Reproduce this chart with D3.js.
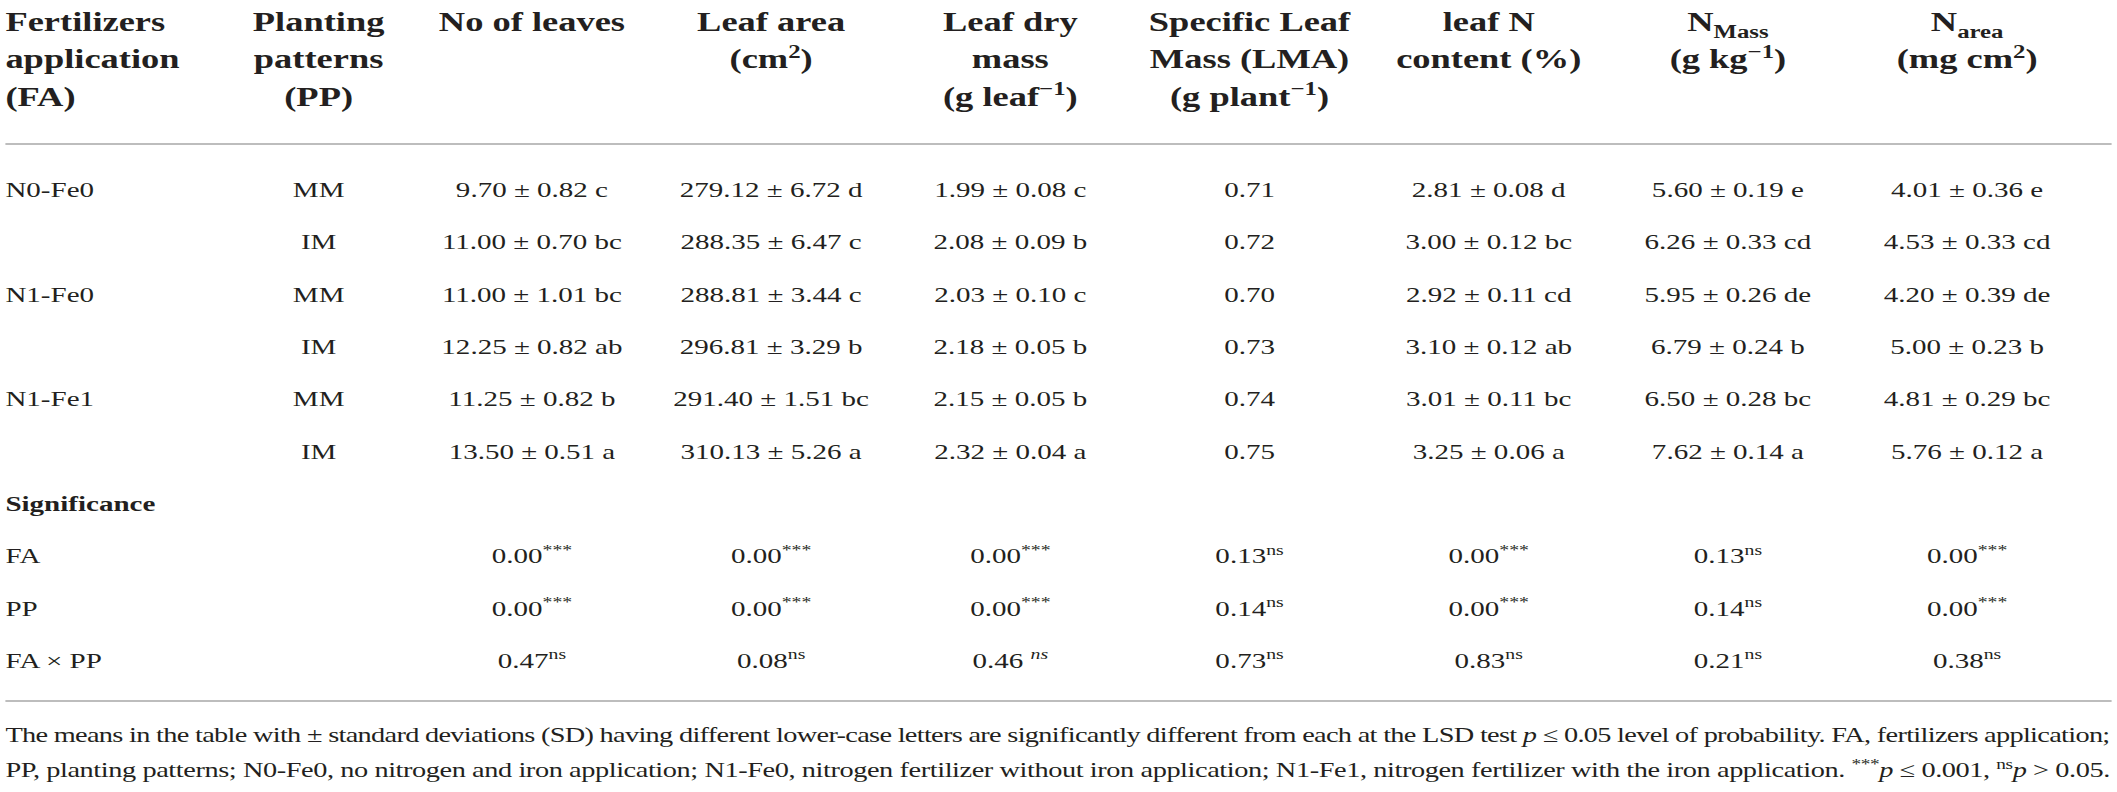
<!DOCTYPE html>
<html>
<head>
<meta charset="utf-8">
<script src="https://cdn.jsdelivr.net/npm/d3@7"></script>
<style>
  body { margin: 0; background: #fff; }
  text { font-family: "Liberation Serif", "Times New Roman", serif; fill: #231f20; white-space: pre; }
</style>
</head>
<body>
<div id="table-chart"></div>
<script>
// table content, one array per column
const fertilizers = ["N0-Fe0", "", "N1-Fe0", "", "N1-Fe1", ""];
const patterns = ["MM", "IM", "MM", "IM", "MM", "IM"];

// [mean, sd, letter]
const noLeaves = [[9.70, 0.82, "c"], [11.00, 0.70, "bc"], [11.00, 1.01, "bc"], [12.25, 0.82, "ab"], [11.25, 0.82, "b"], [13.50, 0.51, "a"]];
const leafArea = [[279.12, 6.72, "d"], [288.35, 6.47, "c"], [288.81, 3.44, "c"], [296.81, 3.29, "b"], [291.40, 1.51, "bc"], [310.13, 5.26, "a"]];
const leafDryMass = [[1.99, 0.08, "c"], [2.08, 0.09, "b"], [2.03, 0.10, "c"], [2.18, 0.05, "b"], [2.15, 0.05, "b"], [2.32, 0.04, "a"]];
const lma = [0.71, 0.72, 0.70, 0.73, 0.74, 0.75];
const leafN = [[2.81, 0.08, "d"], [3.00, 0.12, "bc"], [2.92, 0.11, "cd"], [3.10, 0.12, "ab"], [3.01, 0.11, "bc"], [3.25, 0.06, "a"]];
const nMass = [[5.60, 0.19, "e"], [6.26, 0.33, "cd"], [5.95, 0.26, "de"], [6.79, 0.24, "b"], [6.50, 0.28, "bc"], [7.62, 0.14, "a"]];
const nArea = [[4.01, 0.36, "e"], [4.53, 0.33, "cd"], [4.20, 0.39, "de"], [5.00, 0.23, "b"], [4.81, 0.29, "bc"], [5.76, 0.12, "a"]];

// significance rows: p values and marks (nsi = spaced italic ns)
const sigLabels = ["FA", "PP", "FA \u00d7 PP"];
const sigFA = [0.00, 0.00, 0.00, 0.13, 0.00, 0.13, 0.00];
const sigFAmark = ["***", "***", "***", "ns", "***", "ns", "***"];
const sigPP = [0.00, 0.00, 0.00, 0.14, 0.00, 0.14, 0.00];
const sigPPmark = ["***", "***", "***", "ns", "***", "ns", "***"];
const sigFAxPP = [0.47, 0.08, 0.46, 0.73, 0.83, 0.21, 0.38];
const sigFAxPPmark = ["ns", "ns", "nsi", "ns", "ns", "ns", "ns"];

// header lines as [text, kind] segments
const headers = [
  [[["Fertilizers", "n"]], [["application", "n"]], [["(FA)", "n"]]],
  [[["Planting", "n"]], [["patterns", "n"]], [["(PP)", "n"]]],
  [[["No of leaves", "n"]]],
  [[["Leaf area", "n"]], [["(cm", "n"], ["2", "sup"], [")", "n"]]],
  [[["Leaf dry", "n"]], [["mass", "n"]], [["(g leaf", "n"], ["\u22121", "sup"], [")", "n"]]],
  [[["Specific Leaf", "n"]], [["Mass (LMA)", "n"]], [["(g plant", "n"], ["\u22121", "sup"], [")", "n"]]],
  [[["leaf N", "n"]], [["content (%)", "n"]]],
  [[["N", "n"], ["Mass", "sub"]], [["(g kg", "n"], ["\u22121", "sup"], [")", "n"]]],
  [[["N", "n"], ["area", "sub"]], [["(mg cm", "n"], ["2", "sup"], [")", "n"]]]
];

const footLines = [
  [["The means in the table with \u00b1 standard deviations (SD) having different lower-case letters are significantly different from each at the LSD test ", "n"], ["p", "i"], [" \u2264 0.05 level of probability. FA, fertilizers application;", "n"]],
  [["PP, planting patterns; N0-Fe0, no nitrogen and iron application; N1-Fe0, nitrogen fertilizer without iron application; N1-Fe1, nitrogen fertilizer with the iron application. ", "n"], ["***", "sup"], ["p", "i"], [" \u2264 0.001, ", "n"], ["ns", "sup"], ["p", "i"], [" > 0.05.", "n"]]
];

const width = 2117, height = 792;
const stretch = width / 1568; // the printed table is widened horizontally
const bodySize = 21.5, headSize = 27, footSize = 21;

const svg = d3.select("#table-chart").append("svg")
  .attr("width", width).attr("height", height);
const g = svg.append("g").attr("transform", `scale(${stretch},1)`);

const colX = d3.scaleLinear().domain([2, 8]).range([394, 1457]);
const xOf = i => i === 0 ? 4 : i === 1 ? 236 : colX(i);
const rowY = d3.scaleLinear().domain([0, 9]).range([197, 668]);
const headY = d3.scaleLinear().domain([0, 2]).range([31, 106]);

function rich(sel, segs, size) {
  let cur = 0;
  segs.forEach(([t, k]) => {
    const small = k === "sup" || k === "sub";
    const target = k === "sup" ? -0.4 * size : k === "sub" ? 0.25 * size : 0;
    sel.append("tspan")
      .attr("dy", target - cur)
      .attr("font-size", small ? size * 0.68 : size)
      .attr("font-style", k === "i" ? "italic" : null)
      .text(t);
    cur = target;
  });
}

// header
headers.forEach((lines, ci) => {
  lines.forEach((segs, li) => {
    const t = g.append("text")
      .attr("x", xOf(ci)).attr("y", headY(li))
      .attr("text-anchor", ci === 0 ? "start" : "middle")
      .attr("font-weight", "bold")
      .attr("font-size", headSize);
    rich(t, segs, headSize);
  });
});

g.append("line").attr("x1", 4).attr("x2", 1564).attr("y1", 144).attr("y2", 144)
  .attr("stroke", "#bdbdbd").attr("stroke-width", 2);

// body rows
const fmt = d => `${d[0].toFixed(2)} \u00b1 ${d[1].toFixed(2)} ${d[2]}`;
const bodyCols = [
  fertilizers,
  patterns,
  noLeaves.map(fmt),
  leafArea.map(fmt),
  leafDryMass.map(fmt),
  lma.map(v => v.toFixed(2)),
  leafN.map(fmt),
  nMass.map(fmt),
  nArea.map(fmt)
];

bodyCols.forEach((col, ci) => {
  g.selectAll(null).data(col).join("text")
    .attr("x", xOf(ci))
    .attr("y", (d, ri) => rowY(ri))
    .attr("text-anchor", ci === 0 ? "start" : "middle")
    .attr("font-size", bodySize)
    .text(d => d);
});

// significance block
g.append("text").attr("x", xOf(0)).attr("y", rowY(6))
  .attr("font-weight", "bold").attr("font-size", bodySize).text("Significance");

const sigRows = [[sigFA, sigFAmark], [sigPP, sigPPmark], [sigFAxPP, sigFAxPPmark]];
sigRows.forEach(([vals, marks], si) => {
  g.append("text").attr("x", xOf(0)).attr("y", rowY(7 + si))
    .attr("font-size", bodySize).text(sigLabels[si]);
  vals.forEach((v, j) => {
    const t = g.append("text")
      .attr("x", xOf(j + 2)).attr("y", rowY(7 + si))
      .attr("text-anchor", "middle")
      .attr("font-size", bodySize);
    const m = marks[j];
    const segs = m === "nsi"
      ? [[v.toFixed(2), "n"], [" ", "n"], ["ns", "sup"]]
      : [[v.toFixed(2), "n"], [m, "sup"]];
    rich(t, segs, bodySize);
    if (m === "nsi") t.selectAll("tspan").filter((d, k) => k === 2).attr("font-style", "italic");
  });
});

g.append("line").attr("x1", 4).attr("x2", 1564).attr("y1", 701).attr("y2", 701)
  .attr("stroke", "#bdbdbd").attr("stroke-width", 2);

// footnote, justified to the table width
footLines.forEach((segs, li) => {
  const t = g.append("text")
    .attr("x", 4).attr("y", 742 + li * 35)
    .attr("font-size", footSize)
    .attr("textLength", 1559)
    .attr("lengthAdjust", "spacing");
  rich(t, segs, footSize);
});
</script>
</body>
</html>
